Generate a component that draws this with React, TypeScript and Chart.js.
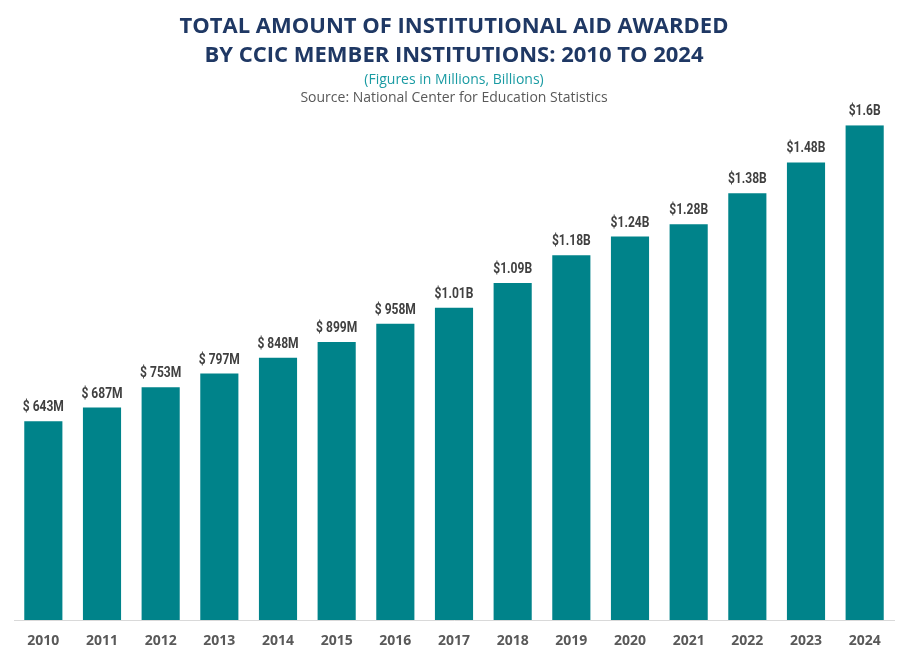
import React, { useEffect, useRef } from "react";
import { Chart, registerables } from "chart.js";

Chart.register(...registerables);

const years = ["2010","2011","2012","2013","2014","2015","2016","2017","2018","2019","2020","2021","2022","2023","2024"];
const aidMillions = [643, 687, 753, 797, 848, 899, 958, 1010, 1090, 1180, 1240, 1280, 1380, 1480, 1600];
const valueLabels = ["$ 643M","$ 687M","$ 753M","$ 797M","$ 848M","$ 899M","$ 958M","$1.01B","$1.09B","$1.18B","$1.24B","$1.28B","$1.38B","$1.48B","$1.6B"];
const titleLines = ["TOTAL AMOUNT OF INSTITUTIONAL AID AWARDED", "BY CCIC MEMBER INSTITUTIONS: 2010 TO 2024"];
const subtitleText = "(Figures in Millions, Billions)";
const sourceText = "Source: National Center for Education Statistics";

const valueLabelPlugin = {
  id: "valueLabels",
  afterDatasetsDraw(chart: any) {
    const ctx = chart.ctx;
    const meta = chart.getDatasetMeta(0);
    ctx.font = "bold 14px Roboto, 'DejaVu Sans', sans-serif";
    ctx.fillStyle = "#404040";
    ctx.textAlign = "center";
    ctx.textBaseline = "alphabetic";
    meta.data.forEach((bar: any, i: number) => {
      ctx.save();
      ctx.translate(bar.x, bar.y - 10);
      ctx.scale(0.86, 1);
      ctx.fillText(valueLabels[i], 0, 0);
      ctx.restore();
    });
  },
};

const sourcePlugin = {
  id: "sourceLine",
  afterDraw(chart: any) {
    const ctx = chart.ctx;
    ctx.save();
    ctx.font = "14px 'Open Sans', sans-serif";
    ctx.fillStyle = "#595959";
    ctx.textAlign = "center";
    ctx.textBaseline = "middle";
    ctx.fillText(sourceText, chart.width / 2, 98);
    ctx.restore();
  },
};

export default function App() {
  const ref = useRef<HTMLCanvasElement | null>(null);
  useEffect(() => {
    if (!ref.current) return;
    const chart = new Chart(ref.current, {
      type: "bar",
      data: {
        labels: years,
        datasets: [
          {
            data: aidMillions,
            backgroundColor: "#00838A",
            categoryPercentage: 1,
            barPercentage: 0.65,
          },
        ],
      },
      options: {
        animation: false,
        responsive: false,
        maintainAspectRatio: false,
        layout: { padding: { left: 14, right: 14, top: 6, bottom: 0 } },
        plugins: {
          legend: { display: false },
          tooltip: { enabled: false },
          title: {
            display: true,
            text: titleLines,
            color: "#1F3864",
            font: { family: "'Open Sans', sans-serif", size: 22, weight: "bold", lineHeight: 1.33 },
            padding: { top: 6, bottom: 0 },
          },
          subtitle: {
            display: true,
            text: subtitleText,
            color: "#1A9BA3",
            font: { family: "'Open Sans', sans-serif", size: 14, lineHeight: 1.2 },
            padding: { top: 1, bottom: 37 },
          },
        },
        scales: {
          x: {
            grid: { display: false, drawTicks: false },
            border: { display: true, color: "#D9D9D9", width: 1 },
            ticks: {
              color: "#595959",
              font: { family: "'Open Sans', sans-serif", size: 14, weight: "bold" },
              padding: 13,
            },
            afterFit(scale: any) {
              scale.height = 39;
            },
          },
          y: {
            display: false,
            min: 0,
            max: 1600,
          },
        },
      },
      plugins: [valueLabelPlugin, sourcePlugin],
    });
    return () => chart.destroy();
  }, []);
  return (
    <div style={{ position: "absolute", left: 0, top: 0, width: 908, height: 659, background: "#fff" }}>
      <canvas ref={ref} width={908} height={659} style={{ width: 908, height: 659 }} />
    </div>
  );
}
